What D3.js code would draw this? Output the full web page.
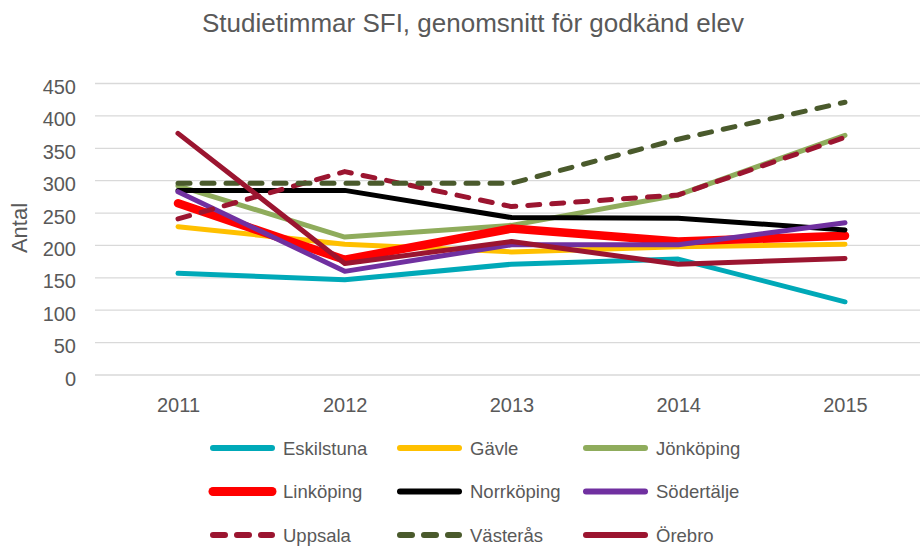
<!DOCTYPE html>
<html><head><meta charset="utf-8">
<script src="https://cdn.jsdelivr.net/npm/d3@7/dist/d3.min.js"></script>
<style>body{margin:0;background:#fff}svg{display:block;font-family:"Liberation Sans",Arial,sans-serif}</style>
</head><body><svg id="c" width="920" height="546"></svg>
<script>
const years = ["2011","2012","2013","2014","2015"];
const yTicks = [0,50,100,150,200,250,300,350,400,450];
const names = ["Eskilstuna","Gävle","Jönköping","Linköping","Norrköping","Södertälje","Uppsala","Västerås","Örebro"];
const eskilstuna = [157,147,171,179,113];
const gavle = [229,202,190,198,202];
const jonkoping = [292,213,231,278,370];
const linkoping = [265,178,226,206,215];
const norrkoping = [285,285,243,242,224];
const sodertalje = [283,160,201,201,235];
const uppsala = [241,314,260,278,367];
const vasteras = [296,296,296,364,421];
const orebro = [373,172,206,171,180];
const values = [eskilstuna,gavle,jonkoping,linkoping,norrkoping,sodertalje,uppsala,vasteras,orebro];
const colors = ["#00A9B8","#FFC000","#8FAC5C","#FF0000","#000000","#7030A0","#9B1530","#4A5A2C","#9B1530"];
const widths = [5,5,5,8.5,5,5,5,5,5];
const dashed = [false,false,false,false,false,false,true,true,false];

const svg = d3.select("#c");
const x = d3.scalePoint().domain(years).range([178,845]);
const y = d3.scaleLinear().domain([0,450]).range([375,83.5]);
const grey = "#595959";
const ff = "Liberation Sans, Arial, sans-serif";

svg.append("text").attr("x",473).attr("y",32).attr("text-anchor","middle")
  .attr("font-size",26).attr("fill",grey).text("Studietimmar SFI, genomsnitt för godkänd elev");

// gridlines
svg.append("g").selectAll("line").data(yTicks).join("line")
  .attr("x1",95).attr("x2",928).attr("y1",d=>y(d)).attr("y2",d=>y(d))
  .attr("stroke","#d9d9d9").attr("stroke-width",1.3);

const yAxis = svg.append("g").attr("transform","translate(95,0)")
  .call(d3.axisLeft(y).tickValues(yTicks).tickSize(0).tickPadding(19));
yAxis.select(".domain").remove();
yAxis.selectAll("text").attr("font-size",20).attr("dy","0.5em").attr("fill",grey).attr("font-family",ff);

const xAxis = svg.append("g").attr("transform","translate(0,375)")
  .call(d3.axisBottom(x).tickSize(0).tickPadding(23));
xAxis.select(".domain").remove();
xAxis.selectAll("text").attr("font-size",20).attr("fill",grey).attr("font-family",ff);

svg.append("text").attr("transform","translate(27,228) rotate(-90)").attr("text-anchor","middle")
  .attr("font-size",22).attr("fill",grey).text("Antal");

const line = d3.line().x((d,i)=>x(years[i])).y(d=>y(d));
values.forEach((v,k)=>{
  svg.append("path").datum(v).attr("d",line).attr("fill","none")
    .attr("stroke",colors[k]).attr("stroke-width",widths[k])
    .attr("stroke-linecap","round").attr("stroke-linejoin","round")
    .attr("stroke-dasharray",dashed[k]?"12,12":null);
});

// legend
const colX = [210,397,583];
const rowY = [448,491.5,535];
names.forEach((n,k)=>{
  const cx = colX[k%3], cy = rowY[Math.floor(k/3)];
  const w = k===3 ? 9 : 6;
  svg.append("line").attr("x1",cx+3).attr("x2",cx+62).attr("y1",cy).attr("y2",cy)
    .attr("stroke",colors[k]).attr("stroke-width",w).attr("stroke-linecap","round")
    .attr("stroke-dasharray",dashed[k]?"12,12":null);
  svg.append("text").attr("x",cx+73).attr("y",cy+6.5).attr("font-size",18.5).attr("fill",grey).text(n);
});
</script></body></html>
